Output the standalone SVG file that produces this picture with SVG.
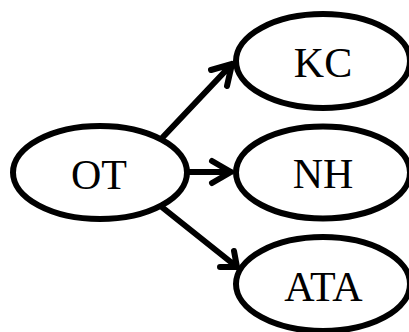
<svg xmlns="http://www.w3.org/2000/svg" width="409" height="332" viewBox="0 0 409 332">
  <style>
    .node ellipse { fill: #fff; stroke: #000; stroke-width: 6; }
    .node text { font-family: "Liberation Serif", "Times New Roman", serif; font-size: 42px; fill: #000; text-anchor: middle; }
    .edge { fill: none; stroke: #000; stroke-width: 6; stroke-linecap: round; stroke-linejoin: round; }
  </style>
  <rect width="409" height="332" fill="#fff"/>
  <g id="connectors">
    <path class="edge" d="M163 137 L232 64 M211 70 L232 64 L227 86"/>
    <path class="edge" d="M188 172 L231 172 M212 161 L231 172 L212 183"/>
    <path class="edge" d="M163 208 L237 267 M220 267 L237 267 L234 251"/>
  </g>
  <g id="node-ot" class="node">
    <ellipse cx="100" cy="172.5" rx="87" ry="46.5"/>
    <text x="99" y="189">OT</text>
  </g>
  <g id="node-kc" class="node">
    <ellipse cx="323" cy="61" rx="87" ry="47"/>
    <text x="323" y="77">KC</text>
  </g>
  <g id="node-nh" class="node">
    <ellipse cx="323" cy="172.5" rx="87" ry="46"/>
    <text x="323" y="188">NH</text>
  </g>
  <g id="node-ata" class="node">
    <ellipse cx="323" cy="284" rx="87" ry="47"/>
    <text x="323.5" y="301">ATA</text>
  </g>
</svg>
